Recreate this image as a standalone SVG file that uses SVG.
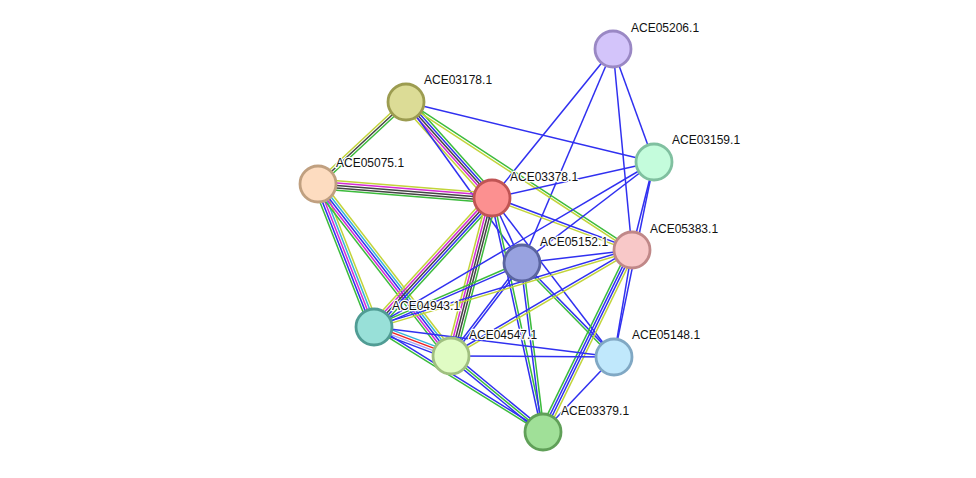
<svg xmlns="http://www.w3.org/2000/svg" width="976" height="478" viewBox="0 0 976 478">
<style>
line{stroke-width:1.5;fill:none}
.g{stroke:#3cbb3c}.b{stroke:#3030f0}.k{stroke:#444444}.m{stroke:#d42ad4}.c{stroke:#38b4d8}.y{stroke:#c2d43a}.r{stroke:#f02020}.l{stroke:#a8a8f0}
.n circle{stroke-width:2.8}
text{font-family:"Liberation Sans",Arial,sans-serif;font-size:12px;fill:#111;stroke:#fff;stroke-width:2.5;paint-order:stroke;stroke-linejoin:round}
</style>
<rect width="976" height="478" fill="#fff"/>
<g id="edges">
<g transform="translate(613 49) rotate(70.06)"><line x2="120.2" class="b"/></g>
<g transform="translate(613 49) rotate(129.08)"><line x2="191.9" class="b"/></g>
<g transform="translate(613 49) rotate(113.04)"><line x2="232.5" class="b"/></g>
<g transform="translate(613 49) rotate(84.6)"><line x2="201.9" class="b"/></g>
<g transform="translate(406 102) rotate(13.6)"><line x2="255.2" class="b"/></g>
<g transform="translate(406 102) rotate(137.02)"><line x2="120.3" y1="2.4" y2="2.4" class="y"/><line x2="120.3" class="k"/><line x2="120.3" y1="-2.4" y2="-2.4" class="g"/></g>
<g transform="translate(406 102) rotate(48.15)"><line x2="128.9" y1="4.8" y2="4.8" class="y"/><line x2="128.9" y1="2.4" y2="2.4" class="m"/><line x2="128.9" class="k"/><line x2="128.9" y1="-2.4" y2="-2.4" class="b"/><line x2="128.9" y1="-4.8" y2="-4.8" class="g"/></g>
<g transform="translate(406 102) rotate(54.23)"><line x2="198.4" class="b"/></g>
<g transform="translate(406 102) rotate(33.22)"><line x2="270.1" y1="-1.2" y2="-1.2" class="g"/><line x2="270.1" y1="1.2" y2="1.2" class="y"/></g>
<g transform="translate(318 184) rotate(4.6)"><line x2="174.6" y1="-4.8" y2="-4.8" class="y"/><line x2="174.6" y1="-2.4" y2="-2.4" class="m"/><line x2="174.6" class="k"/><line x2="174.6" y1="2.4" y2="2.4" class="k"/><line x2="174.6" y1="4.8" y2="4.8" class="g"/></g>
<g transform="translate(318 184) rotate(68.6)"><line x2="153.6" y1="4.8" y2="4.8" class="g"/><line x2="153.6" y1="2.4" y2="2.4" class="b"/><line x2="153.6" class="m"/><line x2="153.6" y1="-2.4" y2="-2.4" class="c"/><line x2="153.6" y1="-4.8" y2="-4.8" class="y"/></g>
<g transform="translate(318 184) rotate(52.28)"><line x2="217.4" y1="4.8" y2="4.8" class="g"/><line x2="217.4" y1="2.4" y2="2.4" class="m"/><line x2="217.4" class="b"/><line x2="217.4" y1="-2.4" y2="-2.4" class="c"/><line x2="217.4" y1="-4.8" y2="-4.8" class="y"/></g>
<g transform="translate(492 198) rotate(-12.53)"><line x2="166" class="b"/></g>
<g transform="translate(492 198) rotate(65.22)"><line x2="71.6" class="b"/></g>
<g transform="translate(492 198) rotate(20.37)"><line x2="149.3" y1="-1.2" y2="-1.2" class="b"/><line x2="149.3" y1="1.2" y2="1.2" class="y"/></g>
<g transform="translate(492 198) rotate(132.45)"><line x2="174.8" y1="4.8" y2="4.8" class="y"/><line x2="174.8" y1="2.4" y2="2.4" class="m"/><line x2="174.8" class="k"/><line x2="174.8" y1="-2.4" y2="-2.4" class="b"/><line x2="174.8" y1="-4.8" y2="-4.8" class="g"/></g>
<g transform="translate(492 198) rotate(104.55)"><line x2="163.2" y1="4.8" y2="4.8" class="y"/><line x2="163.2" y1="2.4" y2="2.4" class="m"/><line x2="163.2" class="k"/><line x2="163.2" y1="-2.4" y2="-2.4" class="k"/><line x2="163.2" y1="-4.8" y2="-4.8" class="g"/></g>
<g transform="translate(492 198) rotate(52.5)"><line x2="200.4" class="b"/></g>
<g transform="translate(492 198) rotate(77.7)"><line x2="239.5" y1="1.2" y2="1.2" class="b"/><line x2="239.5" y1="-1.2" y2="-1.2" class="g"/></g>
<g transform="translate(654 162) rotate(142.58)"><line x2="166.2" class="b"/></g>
<g transform="translate(654 162) rotate(149.5)"><line x2="325" class="b"/></g>
<g transform="translate(654 162) rotate(104.04)"><line x2="90.7" class="b"/></g>
<g transform="translate(654 162) rotate(101.59)"><line x2="199.1" class="b"/></g>
<g transform="translate(522 263) rotate(-6.74)"><line x2="110.8" class="b"/></g>
<g transform="translate(522 263) rotate(156.62)"><line x2="161.2" y1="-1.2" y2="-1.2" class="b"/><line x2="161.2" y1="1.2" y2="1.2" class="g"/></g>
<g transform="translate(522 263) rotate(127.36)"><line x2="117" y1="-1.2" y2="-1.2" class="b"/><line x2="117" y1="1.2" y2="1.2" class="b"/></g>
<g transform="translate(522 263) rotate(45.62)"><line x2="131.5" y1="1.2" y2="1.2" class="g"/><line x2="131.5" y1="-1.2" y2="-1.2" class="b"/></g>
<g transform="translate(522 263) rotate(82.92)"><line x2="170.3" y1="1.2" y2="1.2" class="b"/><line x2="170.3" y1="-1.2" y2="-1.2" class="g"/></g>
<g transform="translate(632 250) rotate(163.38)"><line x2="269.2" y1="1.2" y2="1.2" class="b"/><line x2="269.2" y1="-1.2" y2="-1.2" class="y"/></g>
<g transform="translate(632 250) rotate(149.64)"><line x2="209.8" y1="1.2" y2="1.2" class="b"/><line x2="209.8" y1="-1.2" y2="-1.2" class="y"/></g>
<g transform="translate(632 250) rotate(99.55)"><line x2="108.5" class="b"/></g>
<g transform="translate(632 250) rotate(116.06)"><line x2="202.6" y1="3.6" y2="3.6" class="g"/><line x2="202.6" y1="1.2" y2="1.2" class="b"/><line x2="202.6" y1="-1.2" y2="-1.2" class="b"/><line x2="202.6" y1="-3.6" y2="-3.6" class="y"/></g>
<g transform="translate(374 327) rotate(20.64)"><line x2="82.3" y1="-3.6" y2="-3.6" class="c"/><line x2="82.3" y1="-1.2" y2="-1.2" class="r"/><line x2="82.3" y1="1.2" y2="1.2" class="l"/><line x2="82.3" y1="3.6" y2="3.6" class="b"/></g>
<g transform="translate(374 327) rotate(7.13)"><line x2="241.9" class="b"/></g>
<g transform="translate(374 327) rotate(31.85)"><line x2="199" y1="-1.2" y2="-1.2" class="b"/><line x2="199" y1="1.2" y2="1.2" class="g"/></g>
<g transform="translate(451 356) rotate(0.35)"><line x2="163" class="b"/></g>
<g transform="translate(451 356) rotate(39.56)"><line x2="119.3" y1="-2.4" y2="-2.4" class="b"/><line x2="119.3" class="g"/><line x2="119.3" y1="2.4" y2="2.4" class="b"/></g>
<g transform="translate(614 357) rotate(133.43)"><line x2="103.3" class="b"/></g>
</g>
<g id="ACE05206.1" class="n"><circle cx="613" cy="49" r="18" fill="#d3c4fa" stroke="#9a88c4"/><text x="631" y="32">ACE05206.1</text></g>
<g id="ACE03178.1" class="n"><circle cx="406" cy="102" r="18" fill="#dcdc96" stroke="#9c9c50"/><text x="424" y="84">ACE03178.1</text></g>
<g id="ACE03159.1" class="n"><circle cx="654" cy="162" r="18" fill="#c4fcdc" stroke="#80c0a0"/><text x="672" y="144">ACE03159.1</text></g>
<g id="ACE05075.1" class="n"><circle cx="318" cy="184" r="18" fill="#fddcc0" stroke="#c0a080"/><text x="336" y="167">ACE05075.1</text></g>
<g id="ACE03378.1" class="n"><circle cx="492" cy="198" r="18" fill="#fc9090" stroke="#c05454"/><text x="510" y="181">ACE03378.1</text></g>
<g id="ACE05152.1" class="n"><circle cx="522" cy="263" r="18" fill="#98a2e0" stroke="#5a64a0"/><text x="540" y="246">ACE05152.1</text></g>
<g id="ACE05383.1" class="n"><circle cx="632" cy="250" r="18" fill="#f8c8c8" stroke="#c08888"/><text x="650" y="233">ACE05383.1</text></g>
<g id="ACE04943.1" class="n"><circle cx="374" cy="327" r="18" fill="#98e0d8" stroke="#509c94"/><text x="392" y="310">ACE04943.1</text></g>
<g id="ACE04547.1" class="n"><circle cx="451" cy="356" r="18" fill="#e0fcc4" stroke="#a0c080"/><text x="469" y="339">ACE04547.1</text></g>
<g id="ACE05148.1" class="n"><circle cx="614" cy="357" r="18" fill="#c0e8fc" stroke="#80a8c4"/><text x="632" y="339">ACE05148.1</text></g>
<g id="ACE03379.1" class="n"><circle cx="543" cy="432" r="18" fill="#a0e098" stroke="#60a058"/><text x="561" y="415">ACE03379.1</text></g>
</svg>
